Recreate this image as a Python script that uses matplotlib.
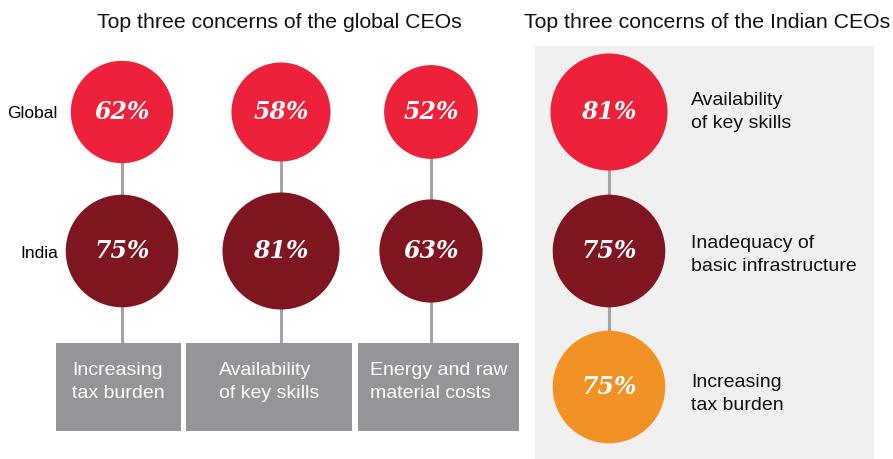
import matplotlib.pyplot as plt
from matplotlib.patches import Circle, Rectangle
import numpy as np

# =====================================================
# Data
# =====================================================

concerns_global = ["Increasing\ntax burden", "Availability\nof key skills", "Energy and raw\nmaterial costs"]
global_vals = [62, 58, 52]
india_vals = [75, 81, 63]

concerns_india = ["Availability\nof key skills", "Inadequacy of\nbasic infrastructure", "Increasing\ntax burden"]
india_top_vals = [81, 75, 75]

# =====================================================
# Style
# =====================================================

RED = "#ED2139"
DARK = "#7E1520"
ORANGE = "#F39224"
BOXGRAY = "#939598"
LINEGRAY = "#A3A4A7"
PANEL = "#F0F0F0"

SANS = "Liberation Sans"
SERIF = "DejaVu Serif"

def radius(v):
    # circle area proportional to the value
    return 6.5 * np.sqrt(v)

W, H = 893, 459
fig = plt.figure(figsize=(W / 100, H / 100), dpi=100)
ax = fig.add_axes([0, 0, 1, 1])
ax.set_xlim(0, W)
ax.set_ylim(H, 0)
ax.set_aspect("equal")
ax.axis("off")

# =====================================================
# Left: global vs India
# =====================================================

col_x = [122, 281, 431]
row_y = [112, 251]
box_edges = [(56, 181), (186, 352), (358, 519)]
box_top, box_bot = 343, 431

ax.text(279, 22, "Top three concerns of the global CEOs", fontsize=15.3,
        family=SANS, ha="center", va="center", color="#111111")

ax.text(58, row_y[0] + 2, "Global", fontsize=12.5, family=SANS, ha="right", va="center")
ax.text(58, row_y[1] + 2, "India", fontsize=12.5, family=SANS, ha="right", va="center")

for i in range(3):
    x = col_x[i]
    ax.plot([x, x], [row_y[0], box_top], color=LINEGRAY, lw=2.2, zorder=1,
            solid_capstyle="butt")
    x0, x1 = box_edges[i]
    ax.add_patch(Rectangle((x0, box_top), x1 - x0, box_bot - box_top,
                           facecolor=BOXGRAY, edgecolor="none", zorder=2))
    ax.text((x0 + x1) / 2, 382, concerns_global[i], fontsize=14, family=SANS,
            color="white", ha="center", va="center", multialignment="left",
            linespacing=1.45, zorder=3)
    for y, v, c in [(row_y[0], global_vals[i], RED), (row_y[1], india_vals[i], DARK)]:
        ax.add_patch(Circle((x, y), radius(v), facecolor=c, edgecolor="none", zorder=2))
        ax.text(x, y, f"{v}%", fontsize=17, family=SERIF, weight="bold",
                style="italic", color="white", ha="center", va="center", zorder=3)

# =====================================================
# Right: Indian CEOs
# =====================================================

ax.add_patch(Rectangle((535, 46), 339, 413, facecolor=PANEL, edgecolor="none", zorder=0))
ax.text(524, 22, "Top three concerns of the Indian CEOs", fontsize=15.3,
        family=SANS, ha="left", va="center", color="#111111")

rx = 609
ry = [112, 251, 387]
label_y = [112, 255, 394]
rcolors = [RED, DARK, ORANGE]
ax.plot([rx, rx], [ry[0], ry[-1]], color=LINEGRAY, lw=2.2, zorder=1)
for y, ly, v, c, lab in zip(ry, label_y, india_top_vals, rcolors, concerns_india):
    ax.add_patch(Circle((rx, y), radius(v), facecolor=c, edgecolor="none", zorder=2))
    ax.text(rx, y, f"{v}%", fontsize=17, family=SERIF, weight="bold",
            style="italic", color="white", ha="center", va="center", zorder=3)
    ax.text(691, ly, lab, fontsize=14, family=SANS, color="#111111",
            ha="left", va="center", linespacing=1.5, zorder=3)

plt.savefig("out.png", dpi=100)
